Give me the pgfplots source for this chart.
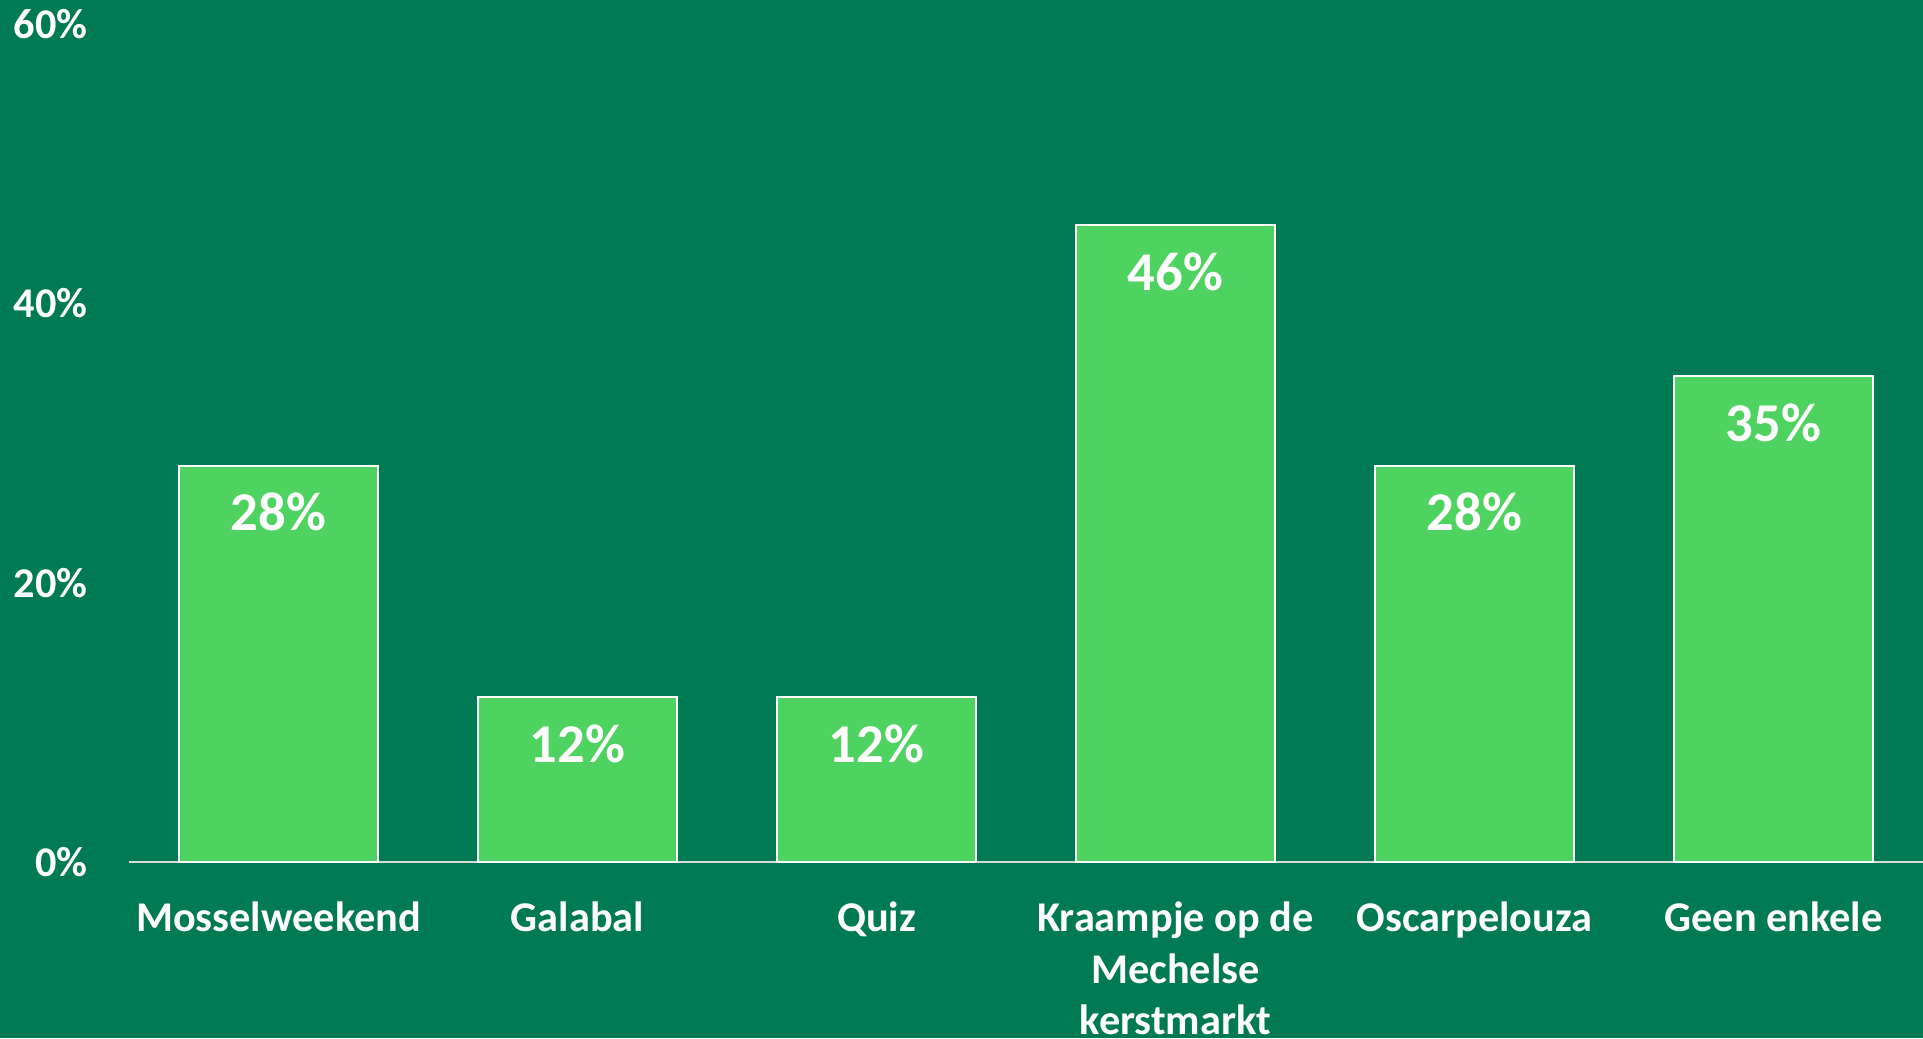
\documentclass[border=0pt]{standalone}
\usepackage{fontspec}
\setmainfont{Carlito}
\usepackage{pgfplots}
\pgfplotsset{compat=1.18}
\definecolor{bg}{RGB}{0,122,83}
\definecolor{barg}{RGB}{79,211,96}
\definecolor{axisgray}{RGB}{217,217,217}
\begin{document}
\begin{tikzpicture}[x=1pt,y=1pt]
\fill[bg] (0,0) rectangle (576.9,311.4);
\begin{axis}[
    at={(38.7pt,52.8pt)}, anchor=south west,
    scale only axis,
    width=538.2pt, height=251.3pt,
    xmin=-0.5, xmax=5.5, ymin=0, ymax=60,
    ybar, bar width=59.6pt,
    axis x line*=bottom, axis y line*=left,
    x axis line style={axisgray, line width=0.6pt},
    y axis line style={draw=none},
    major tick length=0pt,
    xtick={0,...,5},
    xticklabels={Mosselweekend, Galabal, Quiz, {Kraampje op de\\Mechelse\\kerstmarkt}, Oscarpelouza, Geen enkele},
    ytick={0,20,40,60},
    yticklabels={0\%,20\%,40\%,60\%},
    tick label style={text=white, font=\bfseries\fontsize{12.7}{15.4}\selectfont},
    xticklabel style={align=center, anchor=north, inner sep=0pt, yshift=-11.8pt},
    yticklabel style={anchor=east, inner sep=0pt, xshift=-12.3pt},
    nodes near coords={\pgfmathprintnumber[fixed,precision=0,assume math mode=true]{\pgfplotspointmeta}\%},
    every node near coord/.append style={anchor=center, yshift=-14pt, text=white,
        font=\bfseries\fontsize{16.4}{20}\selectfont},
]
\addplot[draw=white, line width=0.6pt, fill=barg] coordinates {
    (0,28.4) (1,11.8) (2,11.8) (3,45.6) (4,28.4) (5,34.8)
};
\end{axis}
\pgfresetboundingbox
\path[use as bounding box] (0,0) rectangle (576.9,311.4);
\end{tikzpicture}
\end{document}
